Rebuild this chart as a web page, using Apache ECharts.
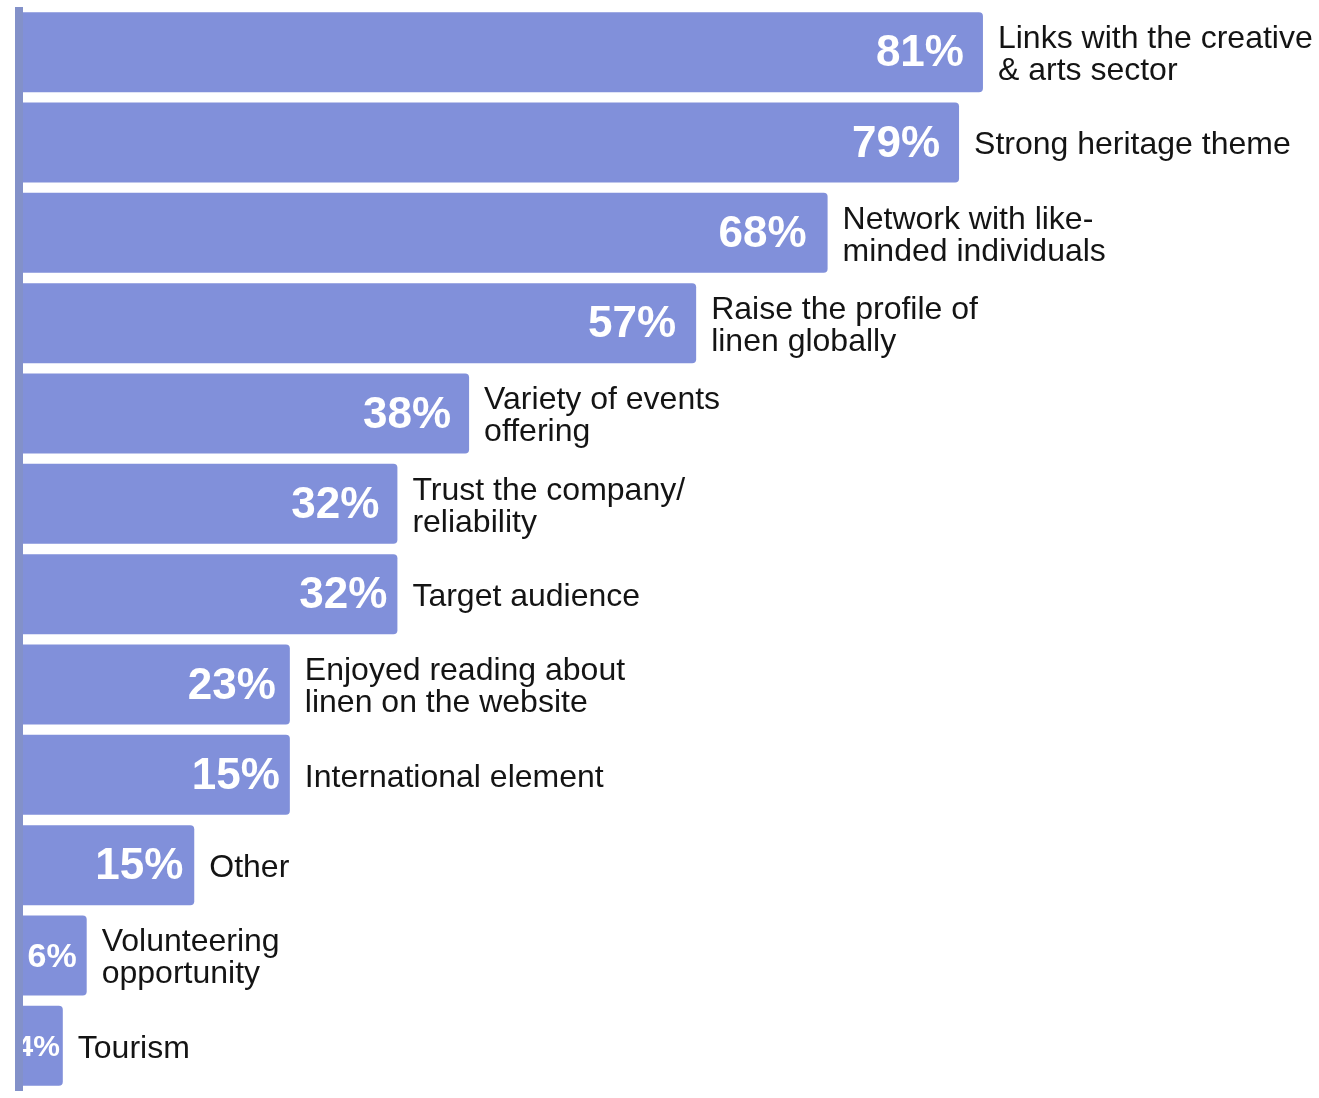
<!DOCTYPE html>
<html>
<head>
<meta charset="utf-8">
<script src="https://cdn.jsdelivr.net/npm/echarts@6/dist/echarts.min.js"></script>
<style>
html,body{margin:0;padding:0;background:#fff;}
#chart{width:1319px;height:1098px;}
</style>
</head>
<body>
<div id="chart"></div>
<script>
const categories = [
  'Links with the creative\n& arts sector',
  'Strong heritage theme',
  'Network with like-\nminded individuals',
  'Raise the profile of\nlinen globally',
  'Variety of events\noffering',
  'Trust the company/\nreliability',
  'Target audience',
  'Enjoyed reading about\nlinen on the website',
  'International element',
  'Other',
  'Volunteering\nopportunity',
  'Tourism'
];
// bar lengths as drawn in the picture (percent)
const barValues = [81, 79, 68, 57, 38, 32, 32, 23, 23, 15, 6, 4];
// value labels as printed on the bars
const percentLabels = ['81%', '79%', '68%', '57%', '38%', '32%', '32%', '23%', '15%', '15%', '6%', '4%'];

// label styling per bar (style only)
const labelFontSizes = [44, 44, 44, 44, 44, 44, 44, 44, 44, 44, 34, 30];
const labelDistances = [19, 19, 21, 20, 18, 18, 10, 14, 10, 11, 10, 3];

const barColor = '#8190da';
const chart = echarts.init(document.getElementById('chart'));

const valueData = barValues.map((v, i) => ({
  value: v,
  label: {
    formatter: percentLabels[i],
    fontSize: labelFontSizes[i],
    distance: labelDistances[i]
  }
}));

chart.setOption({
  animation: false,
  backgroundColor: '#ffffff',
  grid: { left: 15, right: 109, top: 7, bottom: 7, containLabel: false },
  xAxis: {
    type: 'value', min: 0, max: 100,
    show: false
  },
  yAxis: {
    type: 'category',
    data: categories,
    inverse: true,
    offset: -4,
    z: 10,
    axisLine: { show: true, lineStyle: { color: '#8391c9', width: 8, cap: 'butt' } },
    axisTick: { show: false },
    axisLabel: { show: false },
    splitLine: { show: false }
  },
  series: [
    {
      type: 'bar',
      data: valueData,
      barWidth: 80,
      itemStyle: { color: barColor, borderRadius: [0, 4, 4, 0] },
      label: {
        show: true,
        position: 'insideRight',
        color: '#ffffff',
        fontFamily: 'Liberation Sans, Arial, sans-serif',
        fontWeight: 'bold',
        offset: [0, 2]
      },
      z: 2
    },
    {
      type: 'bar',
      data: barValues,
      barWidth: 80,
      barGap: '-100%',
      silent: true,
      itemStyle: { color: 'rgba(0,0,0,0)' },
      label: {
        show: true,
        position: 'right',
        distance: 15,
        color: '#141414',
        fontFamily: 'Liberation Sans, Arial, sans-serif',
        fontSize: 32,
        lineHeight: 32,
        align: 'left',
        offset: [0, 3],
        formatter: p => categories[p.dataIndex]
      },
      z: 3
    }
  ]
});
</script>
</body>
</html>
